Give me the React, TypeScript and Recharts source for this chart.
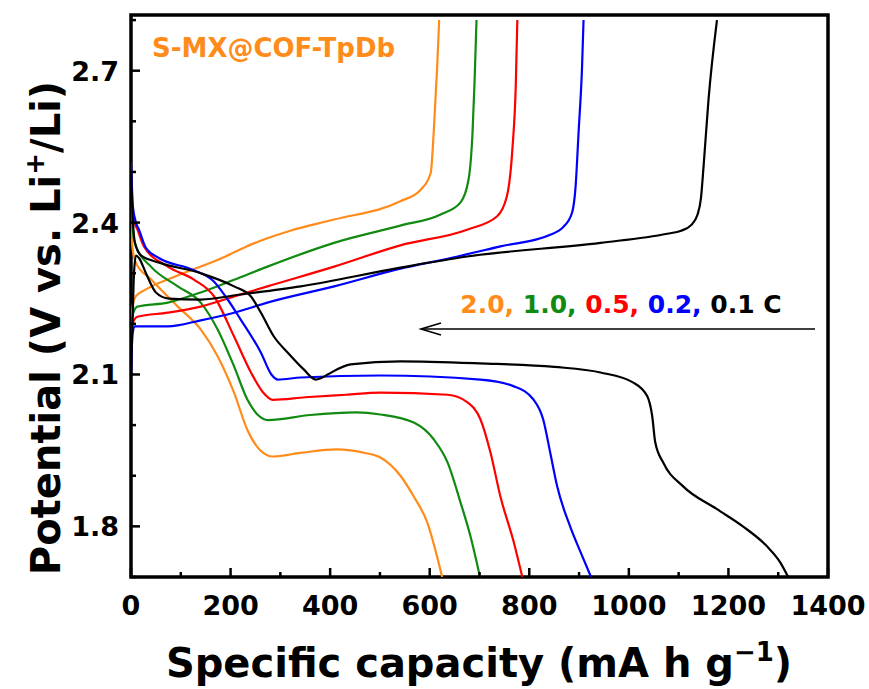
import { LineChart, Line, XAxis, YAxis, ReferenceArea } from "recharts";

// capacity (mA h g-1), potential (V) pairs
const dis20 = [[0,2.40],[3,2.35],[10,2.32],[40,2.288],[94,2.234],[140,2.189],[174,2.136],[207,2.064],[234,1.99],[260,1.95],[285,1.938],[340,1.945],[413,1.952],[470,1.945],[501,1.936],[542,1.899],[568,1.859],[595,1.808],[625,1.70]];
const chg20 = [[0,2.20],[4,2.24],[10,2.255],[30,2.268],[90,2.294],[190,2.333],[230,2.352],[271,2.368],[320,2.384],[408,2.406],[541,2.442],[582,2.465],[602,2.498],[608,2.578],[615,2.708],[619,2.80]];

const dis10 = [[0,2.44],[4,2.38],[10,2.353],[40,2.313],[94,2.274],[140,2.242],[174,2.189],[207,2.116],[234,2.05],[255,2.02],[275,2.01],[360,2.02],[452,2.025],[501,2.021],[568,2.005],[608,1.972],[636,1.926],[662,1.847],[682,1.78],[701,1.70]];
const chg10 = [[0,2.19],[4,2.22],[13,2.234],[74,2.242],[140,2.262],[207,2.287],[274,2.313],[408,2.36],[541,2.394],[622,2.416],[662,2.44],[678,2.485],[686,2.578],[690,2.676],[694,2.80]];

const dis05 = [[0,2.47],[4,2.41],[13,2.386],[26,2.353],[74,2.313],[127,2.287],[167,2.254],[207,2.175],[241,2.104],[265,2.065],[285,2.05],[350,2.055],[432,2.06],[501,2.064],[636,2.06],[676,2.045],[702,2.011],[722,1.946],[742,1.859],[769,1.768],[786,1.70]];
const chg05 = [[0,2.15],[3,2.20],[13,2.214],[74,2.222],[140,2.234],[207,2.254],[274,2.274],[408,2.313],[541,2.355],[675,2.386],[735,2.412],[755,2.452],[766,2.544],[773,2.676],[776,2.80]];

const dis02 = [[0,2.52],[4,2.43],[10,2.40],[16,2.386],[30,2.35],[56,2.33],[124,2.307],[165,2.285],[190,2.254],[220,2.209],[261,2.143],[282,2.10],[295,2.09],[341,2.094],[501,2.098],[702,2.09],[768,2.077],[808,2.051],[828,2.011],[842,1.946],[856,1.879],[882,1.80],[903,1.749],[924,1.70]];
const chg02 = [[0,2.10],[3,2.18],[8,2.195],[74,2.195],[140,2.207],[207,2.222],[274,2.242],[408,2.274],[541,2.309],[642,2.33],[742,2.353],[842,2.376],[869,2.392],[886,2.42],[893,2.471],[899,2.578],[906,2.708],[909,2.80]];

const dis01 = [[0,2.50],[3,2.42],[8,2.36],[20,2.335],[60,2.32],[140,2.30],[207,2.274],[241,2.254],[261,2.222],[287,2.175],[315,2.143],[347,2.11],[371,2.09],[380,2.092],[395,2.10],[441,2.12],[541,2.126],[700,2.122],[850,2.115],[943,2.104],[1009,2.084],[1037,2.057],[1047,2.017],[1053,1.966],[1069,1.926],[1109,1.879],[1177,1.834],[1229,1.80],[1277,1.761],[1304,1.729],[1320,1.70]];
const chg01 = [[0,2.10],[3,2.20],[6,2.30],[10,2.335],[16,2.33],[30,2.30],[50,2.262],[76,2.25],[140,2.248],[220,2.258],[341,2.274],[541,2.311],[675,2.333],[943,2.36],[1077,2.378],[1105,2.384],[1125,2.395],[1138,2.416],[1145,2.45],[1150,2.51],[1160,2.643],[1177,2.80]];

const xTicks = [0,100,200,300,400,500,600,700,800,900,1000,1100,1200,1300,1400];
const yTicks = [1.7,1.8,1.9,2.0,2.1,2.2,2.3,2.4,2.5,2.6,2.7,2.8];

const ORANGE = "#ff8c1a";
const GREEN = "#118a11";
const RED = "#ff0000";
const BLUE = "#0000ff";
const BLACK = "#000000";

const series = [
  { name: "2.0C discharge", pts: dis20, color: ORANGE },
  { name: "2.0C charge", pts: chg20, color: ORANGE },
  { name: "1.0C discharge", pts: dis10, color: GREEN },
  { name: "1.0C charge", pts: chg10, color: GREEN },
  { name: "0.5C discharge", pts: dis05, color: RED },
  { name: "0.5C charge", pts: chg05, color: RED },
  { name: "0.2C discharge", pts: dis02, color: BLUE },
  { name: "0.2C charge", pts: chg02, color: BLUE },
  { name: "0.1C discharge", pts: dis01, color: BLACK },
  { name: "0.1C charge", pts: chg01, color: BLACK },
];

const toPts = (a: number[][]) => a.map(([c, v]) => ({ c, v }));

const FONT = "'DejaVu Sans', sans-serif";

const XTick = (props: any) => {
  const { x, y, payload } = props;
  const major = payload.value % 200 === 0;
  return (
    <g>
      <line x1={x} x2={x} y1={y} y2={y - (major ? 9 : 5)} stroke="#000" strokeWidth={2.5} />
      {major && (
        <text x={x} y={y + 38} textAnchor="middle" fontFamily={FONT} fontWeight="bold" fontSize={27} fill="#000">
          {payload.value}
        </text>
      )}
    </g>
  );
};

const YTick = (props: any) => {
  const { x, y, payload } = props;
  const major = Math.round(payload.value * 10) % 3 === 0;
  return (
    <g>
      <line x1={x} x2={x + (major ? 9 : 5)} y1={y} y2={y} stroke="#000" strokeWidth={2.5} />
      {major && (
        <text x={x - 12} y={y + 10} textAnchor="end" fontFamily={FONT} fontWeight="bold" fontSize={27} fill="#000">
          {payload.value.toFixed(1)}
        </text>
      )}
    </g>
  );
};

export default function App() {
  return (
    <div style={{ position: "absolute", left: 0, top: 0, width: 869, height: 689, background: "#fff" }}>
      <LineChart width={869} height={689} margin={{ top: 15, right: 41, bottom: 52, left: 70 }}>
        <XAxis
          dataKey="c"
          type="number"
          domain={[0, 1400]}
          ticks={xTicks}
          interval={0}
          allowDataOverflow
          axisLine={false}
          tickLine={false}
          tickSize={0}
          tickMargin={0}
          height={60}
          tick={<XTick />}
        />
        <YAxis
          dataKey="v"
          type="number"
          domain={[1.7, 2.81]}
          ticks={yTicks}
          interval={0}
          allowDataOverflow
          axisLine={false}
          tickLine={false}
          tickSize={0}
          tickMargin={0}
          width={61}
          tick={<YTick />}
        />
        {series.map((s) => (
          <Line
            key={s.name}
            name={s.name}
            data={toPts(s.pts)}
            dataKey="v"
            type="monotone"
            stroke={s.color}
            strokeWidth={2.2}
            dot={false}
            activeDot={false}
            isAnimationActive={false}
          />
        ))}
        <ReferenceArea x1={0} x2={1400} y1={1.7} y2={2.81} fill="none" stroke="#000" strokeWidth={3.5} ifOverflow="visible" />
      </LineChart>
      <svg width={869} height={689} style={{ position: "absolute", left: 0, top: 0, pointerEvents: "none" }}>
        <text x={152} y={57} fontFamily={FONT} fontWeight="bold" fontSize={26} fill={ORANGE}>
          S-MX@COF-TpDb
        </text>
        <text x={621} y={313} textAnchor="middle" fontFamily={FONT} fontWeight="bold" fontSize={25}>
          <tspan fill={ORANGE}>2.0, </tspan>
          <tspan fill={GREEN}>1.0, </tspan>
          <tspan fill={RED}>0.5, </tspan>
          <tspan fill={BLUE}>0.2, </tspan>
          <tspan fill={BLACK}>0.1 C</tspan>
        </text>
        <line x1={815} y1={329} x2={421} y2={329} stroke="#000" strokeWidth={1.6} />
        <polyline points="441,323 421,329 441,335" fill="none" stroke="#000" strokeWidth={1.6} />
        <text x={479} y={677} textAnchor="middle" fontFamily={FONT} fontWeight="bold" fontSize={40} fill="#000">
          Specific capacity (mA h g
          <tspan fontSize={26} dy={-16}>−1</tspan>
          <tspan dy={16}>)</tspan>
        </text>
        <text
          x={60}
          y={328}
          transform="rotate(-90 60 328)"
          textAnchor="middle"
          fontFamily={FONT}
          fontWeight="bold"
          fontSize={40}
          fill="#000"
        >
          Potential (V vs. Li
          <tspan fontSize={26} dy={-16}>+</tspan>
          <tspan dy={16}>/Li)</tspan>
        </text>
      </svg>
    </div>
  );
}
